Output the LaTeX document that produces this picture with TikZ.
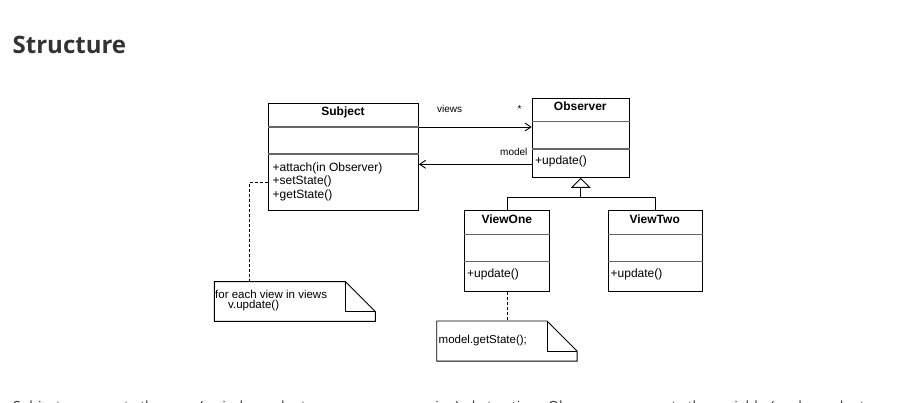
\documentclass[tikz,border=0pt]{standalone}
\usepackage{fontspec}
\setmainfont{Liberation Sans}
\newfontfamily\headfont{Open Sans}
\usetikzlibrary{arrows.meta}
\definecolor{headgray}{HTML}{333333}
\definecolor{sepgray}{HTML}{666666}

\begin{document}
\begin{tikzpicture}
        [x=1pt,y=-1pt,
         classbox/.style={draw,anchor=north west,inner sep=0,line width=0.9pt},
         classname/.style={font=\fontsize{12}{14}\selectfont\bfseries,anchor=base,inner sep=0},
         member/.style={font=\fontsize{12}{13.5}\selectfont,anchor=base west,inner sep=0},
         sep/.style={draw=sepgray,line width=1.4pt},
         assoc/.style={line width=0.9pt,-{Straight Barb[length=6pt,width=8pt]}},
         role/.style={font=\fontsize{10}{12}\selectfont,anchor=base west,inner sep=0},
         notebox/.style={anchor=north west,inner sep=0},
         notetext/.style={font=\fontsize{11.5}{13}\selectfont,anchor=base west,inner sep=0},
         link/.style={line width=0.9pt,dash pattern=on 3pt off 2pt}]

        \useasboundingbox (0,0) rectangle (911,403);
        \clip (0,0) rectangle (911,403);

        \node[font=\headfont\bfseries\fontsize{24}{30}\selectfont,text=headgray,anchor=base west,inner sep=0] (heading) at (12.5,54) {Structure};

        % classes
        \node[classbox,minimum width=150pt,minimum height=107pt] (subject) at (268,103) {};
        \node[classbox,minimum width=97.3pt,minimum height=78.7pt] (observer) at (531.7,98.3) {};
        \node[classbox,minimum width=85pt,minimum height=80.7pt] (viewone) at (464.3,210) {};
        \node[classbox,minimum width=94pt,minimum height=80.7pt] (viewtwo) at (607.7,210) {};

        \draw[sep] ([yshift=-24pt]subject.north west) -- ([yshift=-24pt]subject.north east);
        \draw[sep] ([yshift=-51pt]subject.north west) -- ([yshift=-51pt]subject.north east);
        \draw[sep] ([yshift=-23.4pt]observer.north west) -- ([yshift=-23.4pt]observer.north east);
        \draw[sep] ([yshift=-50.7pt]observer.north west) -- ([yshift=-50.7pt]observer.north east);
        \draw[sep] ([yshift=-24.3pt]viewone.north west) -- ([yshift=-24.3pt]viewone.north east);
        \draw[sep] ([yshift=-51.7pt]viewone.north west) -- ([yshift=-51.7pt]viewone.north east);
        \draw[sep] ([yshift=-24.3pt]viewtwo.north west) -- ([yshift=-24.3pt]viewtwo.north east);
        \draw[sep] ([yshift=-51.7pt]viewtwo.north west) -- ([yshift=-51.7pt]viewtwo.north east);

        \node[classname] (subjectname) at (343,115.5) {Subject};
        \node[classname] (observername) at (580.3,110.7) {Observer};
        \node[classname] (viewonename) at (506.8,223.3) {ViewOne};
        \node[classname] (viewtwoname) at (654.7,223.3) {ViewTwo};

        \node[member] (attach) at (272.5,171.5) {+attach(in Observer)};
        \node[member] (setstate) at (272.5,185) {+setState()};
        \node[member] (getstate) at (272.5,198.5) {+getState()};
        \node[member] (observerupdate) at (535,165) {+update()};
        \node[member] (viewoneupdate) at (467,277.5) {+update()};
        \node[member] (viewtwoupdate) at (610.5,277.5) {+update()};

        % associations
        \draw[assoc] ([yshift=-24pt]subject.north east) -- ([yshift=-28.7pt]observer.north west);
        \draw[assoc] ([yshift=-66pt]observer.north west) -- ([yshift=-61.3pt]subject.north east);
        \node[role] (views) at (437,113) {views};
        \node[role] (many) at (517.5,113) {*};
        \node[role] (model) at (500,156) {model};

        % generalization
        \coordinate (gen) at ([yshift=-20pt]observer.south);
        \draw[line width=0.9pt] (viewone.north) |- (gen) -| (viewtwo.north);
        \draw[line width=0.9pt,-{Triangle[open,length=10pt,width=20pt,line width=0.9pt]}] (gen) -- (observer.south);

        % notes
        \node[notebox,minimum width=160.7pt,minimum height=39.3pt] (note1) at (214.3,281.7) {};
        \node[notebox,minimum width=140pt,minimum height=39.7pt] (note2) at (436.7,321) {};
        \foreach \n in {note1,note2} {
          \draw[line width=0.9pt] (\n.north west) -- ([xshift=-30pt]\n.north east) -- ([yshift=-30pt]\n.north east)
            -- (\n.south east) -- (\n.south west) -- cycle;
          \draw[line width=0.9pt] ([xshift=-30pt]\n.north east) |- ([yshift=-30pt]\n.north east);
        }
        \node[notetext] (loop) at (215,298.3) {for each view in views};
        \node[notetext] (call) at (228,308.7) {v.update()};
        \node[notetext] (getcall) at (438.5,344) {model.getState();};

        \draw[link] ([xshift=35pt]note1.north west) |- ([yshift=-79.7pt]subject.north west);
        \draw[link] (viewone.south) -- (viewone.south |- note2.north);

        % text below the picture, cut by the page edge
        \node[font=\headfont\fontsize{14}{20}\selectfont,text=headgray,anchor=north west,inner sep=0,text width=872pt,align=left] (intro) at (13,400.3)
          {Subject represents the core (or independent or common or engine) abstraction. Observer represents the variable (or dependent or optional or user interface) abstraction.};
      \end{tikzpicture}
\end{document}
